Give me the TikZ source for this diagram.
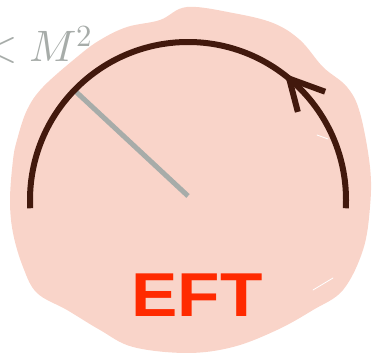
\documentclass[tikz,border=0pt]{standalone}
\usepackage{fontspec}
\usepackage{unicode-math}
\setmathfont{Latin Modern Math}
\usetikzlibrary{arrows.meta, decorations.markings}
\definecolor{blobpink}{HTML}{F9D4C9}
\definecolor{loopbrown}{HTML}{42190D}
\definecolor{cutgray}{HTML}{A7ACA9}
\definecolor{eftred}{HTML}{FF2A00}
\newfontfamily\eftfont{Liberation Sans}

\begin{document}
\begin{tikzpicture}[
  x=1pt, y=1pt,
  loop/.style={draw=loopbrown, line width=6pt},
  barb/.style={draw=loopbrown, line width=6pt, line join=miter},
  radius line/.style={draw=cutgray, line width=5pt},
  chalk/.style={draw=white, line width=0.8pt, line cap=round},
  cut label/.style={text=cutgray, font=\fontsize{44}{50}\selectfont, inner sep=0pt},
  eft label/.style={text=eftred, font=\eftfont\bfseries\fontsize{62}{70}\selectfont,
    inner sep=0pt, xscale=1.12, transform shape},
]
\useasboundingbox (0,0) rectangle (378,355);
\fill[blobpink] plot[smooth cycle, tension=0.6] coordinates {
  (187,348) (160,335) (127,328) (100,315) (77,298) (43,268) (27,245)
  (17,215) (13,195) (10,155) (13,122) (23,88) (37,62) (67,45) (100,25)
  (133,8) (187,2) (233,8) (277,25) (313,45) (343,65) (363,105) (370,148)
  (370,188) (360,242) (347,268) (323,288) (300,315) (273,332) (233,342)};
\draw[chalk] (317,220) -- (328,216);
\draw[chalk] (313,65) -- (333,77);

\coordinate (c) at (188,155);
\path (c) ++(-3:158) coordinate (a0);
\path (c) ++(136:158) coordinate (r1);
\draw[radius line] ([yshift=4pt]c) -- (r1);
\draw[loop, postaction={decorate}, decoration={markings,
    mark=at position 0.286 with {\draw[barb] (-36pt,-13pt) -- (0pt,0pt) -- (-28pt,20pt);}}]
  (a0) arc[start angle=-3, end angle=183, radius=158];

\node[cut label, anchor=base east] (kcut) at (93,293) {$<M^2$};
\node[eft label] (eft) at (197,60) {EFT};
\end{tikzpicture}
\end{document}
